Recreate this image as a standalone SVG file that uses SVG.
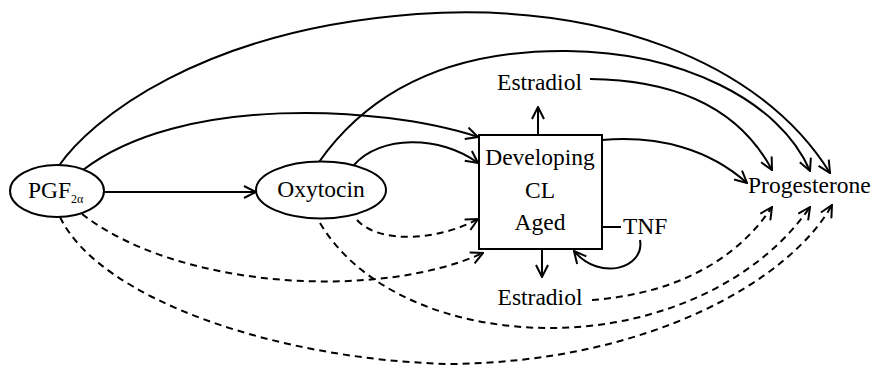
<svg xmlns="http://www.w3.org/2000/svg" width="875" height="366" viewBox="0 0 875 366">
<style>
  text { font-family: "Liberation Serif", "DejaVu Serif", serif; font-size: 23.5px; fill: #000; }
  .node { fill: #fff; stroke: #000; stroke-width: 2; }
  .c { fill: none; stroke: #000; stroke-width: 2; }
  .d { fill: none; stroke: #000; stroke-width: 2; stroke-dasharray: 7 5; }
  .sub { font-size: 12px; }
</style>
<defs>
  <marker id="ah" viewBox="0 0 14 14" refX="13" refY="7" markerWidth="14" markerHeight="14" markerUnits="userSpaceOnUse" orient="auto">
    <path d="M1,1 L13,7 L1,13" fill="none" stroke="#000" stroke-width="2" stroke-dasharray="none"/>
  </marker>
</defs>
<rect width="875" height="366" fill="#fff"/>
<g id="connectors">
  <path class="c" d="M 104 192 L 256 192" marker-end="url(#ah)"/>
  <path class="c" d="M 58 167 C 90 120, 200 30, 417 14 C 600 2, 760 60, 830 173" marker-end="url(#ah)"/>
  <path class="c" d="M 319 162 C 370 90, 450 50, 567 51 C 680 52, 780 100, 810 171" marker-end="url(#ah)"/>
  <path class="c" d="M 83 170 C 180 95, 380 105, 478 137" marker-end="url(#ah)"/>
  <path class="c" d="M 354 165 C 380 135, 440 135, 478 163" marker-end="url(#ah)"/>
  <path class="c" d="M 590 79 C 680 80, 740 110, 772 170" marker-end="url(#ah)"/>
  <path class="c" d="M 602 140 C 660 135, 710 150, 747 183" marker-end="url(#ah)"/>
  <path class="c" d="M 538 134 L 538 107" marker-end="url(#ah)"/>
  <path class="c" d="M 542 249 L 542 277" marker-end="url(#ah)"/>
  <path class="c" d="M 602 227 L 621 227"/>
  <path class="c" d="M 640 240 C 645 268, 600 282, 574 251" marker-end="url(#ah)"/>
  <path class="d" d="M 357 220 C 380 245, 440 240, 478 219" marker-end="url(#ah)"/>
  <path class="d" d="M 82 214 C 180 290, 380 300, 483 253" marker-end="url(#ah)"/>
  <path class="d" d="M 60 217 C 100 300, 280 360, 450 364 C 650 362, 790 280, 832 205" marker-end="url(#ah)"/>
  <path class="d" d="M 320 223 C 360 290, 450 328, 550 328 C 660 328, 760 280, 810 207" marker-end="url(#ah)"/>
  <path class="d" d="M 592 300 C 660 295, 730 270, 772 207" marker-end="url(#ah)"/>
</g>
<g id="pgf" font-family="Liberation Serif, serif">
  <ellipse class="node" cx="57" cy="191" rx="47" ry="26"/>
  <text x="28" y="198">PGF</text>
  <text class="sub" x="71" y="203">2α</text>
</g>
<g id="oxytocin" font-family="Liberation Serif, serif">
  <ellipse class="node" cx="321" cy="190" rx="65" ry="28.5"/>
  <text x="321" y="197" text-anchor="middle">Oxytocin</text>
</g>
<g id="cl" font-family="Liberation Serif, serif">
  <rect class="node" x="479" y="135" width="123" height="114"/>
  <text x="540" y="165" text-anchor="middle">Developing</text>
  <text x="540" y="198" text-anchor="middle">CL</text>
  <text x="540" y="230" text-anchor="middle">Aged</text>
</g>
<g id="estradiol-top">
  <text x="539.5" y="90" text-anchor="middle">Estradiol</text>
</g>
<g id="estradiol-bottom">
  <text x="540" y="305" text-anchor="middle">Estradiol</text>
</g>
<g id="tnf">
  <text x="623" y="234">TNF</text>
</g>
<g id="progesterone">
  <text x="748" y="193">Progesterone</text>
</g>
</svg>
